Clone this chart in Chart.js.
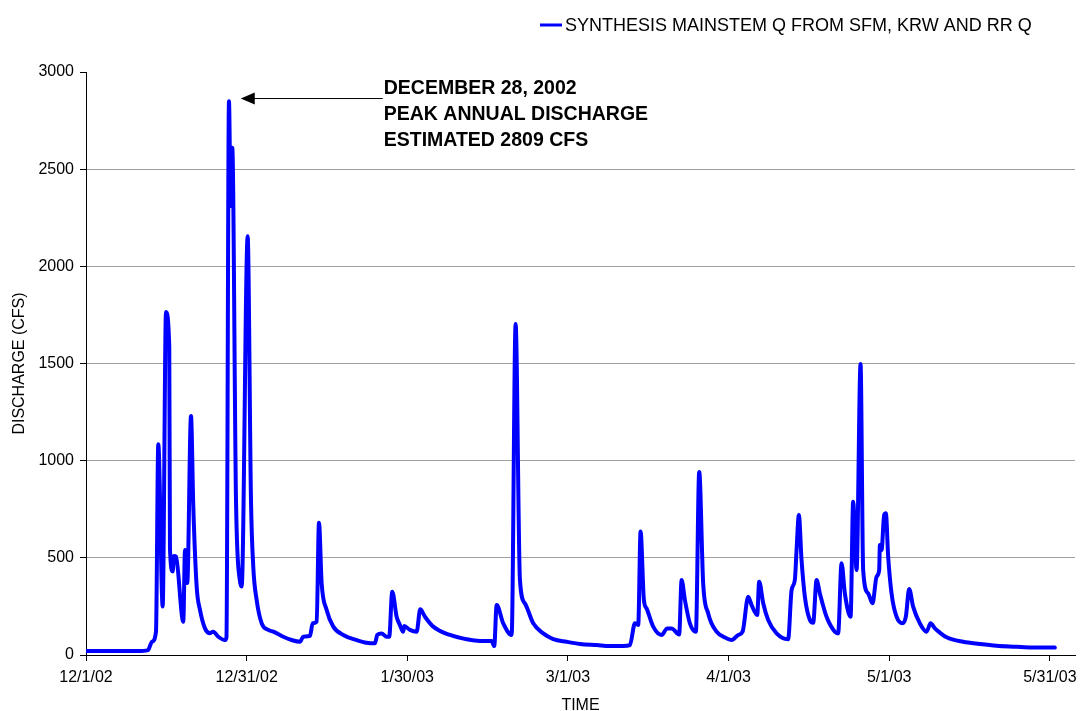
<!DOCTYPE html>
<html>
<head>
<meta charset="utf-8">
<script src="https://cdn.jsdelivr.net/npm/chart.js@4.4.1/dist/chart.umd.min.js"></script>
<style>
  html, body { margin: 0; padding: 0; background: #fff; }
  #wrap { width: 1080px; height: 711px; position: relative; }
</style>
</head>
<body>
<div id="wrap"><canvas id="c" width="1080" height="711"></canvas></div>
<script>
// ---- data (days since 12/1/02, discharge in CFS) ----
const dayIndex = [
  0, 9.52, 11.58, 12.32, 13.07, 13.50, 14.32, 14.94, 15.55, 15.68, 16.19, 16.43, 16.80,
  18.17, 18.49, 18.91, 19.61, 20.04, 20.67, 21.29, 22.22, 23.15, 23.77, 24.70, 25.95,
  26.23, 26.70, 27.02, 27.32, 28.01, 28.75, 29.07, 30.19, 30.81, 31.24, 31.87, 32.81,
  34.04, 34.97, 36.84, 38.41, 39.96, 40.57, 41.83, 42.33, 43.08, 43.51, 44.01, 44.94,
  46.18, 48.04, 50.55, 52.41, 53.96, 54.39, 55.21, 56.15, 56.63, 57.19, 58.01, 58.63,
  59.25, 59.43, 60.50, 61.75, 62.42, 63.30, 64.85, 67.97, 71.08, 73.57, 75.75, 76.24,
  76.69, 77.92, 79.49, 80.23, 81.04, 81.97, 83.52, 85.39, 87.26, 89.76, 92.24, 95.36,
  97.84, 100.33, 101.58, 102.51, 103.13, 103.57, 104.19, 104.69, 105.93, 107.49, 108.54,
  109.36, 110.78, 111.23, 111.85, 112.78, 113.90, 114.52, 115.26, 116.20, 117.76, 119.63,
  120.57, 121.80, 122.62, 123.67, 124.30, 125.35, 125.72, 126.47, 127.40, 128.97, 131.13,
  131.77, 132.38, 132.70, 133.13, 133.63, 134.25, 135.19, 135.80, 136.44, 137.05, 138.30,
  139.85, 140.47, 141.10, 141.72, 142.79, 143.27, 143.91, 144.65, 145.14, 146.07, 146.89,
  147.64, 148.13, 148.26, 148.57, 149.06, 149.38, 149.81, 150.44, 151.37, 152.49, 153.11,
  153.73, 154.47, 155.73, 156.98, 157.72, 158.53, 159.46, 160.71, 163.81, 166.93, 170.04,
  173.15, 176.26, 180.93
];
const discharge = [
  20, 20, 25, 68, 120, 1085, 250, 1765, 1585, 550, 430, 510, 506,
  171, 540, 370, 1230, 763, 351, 232, 137, 112, 120, 94, 77,
  90, 2850, 2310, 2610, 800, 380, 352, 2155, 798, 454, 283, 163,
  129, 120, 94, 77, 68, 94, 98, 163, 171, 681, 369, 232,
  146, 103, 77, 63, 60, 103, 111, 94, 94, 326, 197, 154,
  120, 149, 129, 120, 235, 197, 146, 103, 81, 72, 72, 46,
  257, 163, 103, 1703, 386, 266, 163, 111, 82, 68, 57, 51,
  46, 46, 51, 163, 155, 635, 283, 240, 146, 103, 137,
  137, 106, 386, 283, 163, 120, 942, 369, 214, 120, 86,
  77, 103, 120, 300, 257, 206, 377, 266, 180, 111, 81,
  334, 386, 540, 720, 489, 300, 180, 166, 386, 317, 197,
  120, 111, 472, 317, 197, 789, 437, 1497, 437, 317, 266,
  403, 437, 566, 540, 720, 729, 506, 317, 197, 163, 197,
  340, 249, 163, 120, 163, 137, 115, 91, 68, 57, 48,
  43, 39, 38
];
const tickDays   = [0, 30, 60, 90, 120, 150, 180];
const tickLabels = ["12/1/02", "12/31/02", "1/30/03", "3/1/03", "4/1/03", "5/1/03", "5/31/03"];
const yTicks     = [0, 500, 1000, 1500, 2000, 2500, 3000];
const seriesName = "SYNTHESIS MAINSTEM Q FROM SFM, KRW AND RR Q";
const noteLines  = ["DECEMBER 28, 2002", "PEAK ANNUAL DISCHARGE", "ESTIMATED 2809 CFS"];
const notePeakDay = 28.9, notePeakQ = 2866, noteTextDay = 55.6;

const points = dayIndex.map((d, i) => ({ x: d, y: discharge[i] }));
const FONT = "'Liberation Sans', Arial, sans-serif";

const overlay = {
  id: 'overlay',
  afterDraw(chart) {
    const ctx = chart.ctx;
    const xs = chart.scales.x, ys = chart.scales.y, ca = chart.chartArea;
    ctx.save();
    // legend
    ctx.strokeStyle = '#0000ff';
    ctx.lineWidth = 3;
    ctx.beginPath(); ctx.moveTo(540, 25); ctx.lineTo(562, 25); ctx.stroke();
    ctx.fillStyle = '#000';
    ctx.font = "18px " + FONT;
    ctx.textBaseline = 'middle';
    ctx.textAlign = 'left';
    ctx.fillText(seriesName, 565, 26);
    // axis titles
    ctx.font = "16px " + FONT;
    ctx.textAlign = 'center';
    ctx.fillText('TIME', (ca.left + ca.right) / 2, 706);
    ctx.save();
    ctx.translate(20, (ca.top + ca.bottom) / 2);
    ctx.rotate(-Math.PI / 2);
    ctx.fillText('DISCHARGE (CFS)', 0, 0);
    ctx.restore();
    // annotation arrow
    const tipX = xs.getPixelForValue(notePeakDay);
    const tipY = ys.getPixelForValue(notePeakQ);
    const tailX = xs.getPixelForValue(noteTextDay) - 1;
    ctx.strokeStyle = '#000';
    ctx.lineWidth = 1;
    ctx.beginPath(); ctx.moveTo(tailX, tipY + 0.5); ctx.lineTo(tipX + 12, tipY + 0.5); ctx.stroke();
    ctx.beginPath();
    ctx.moveTo(tipX, tipY + 0.5);
    ctx.lineTo(tipX + 14, tipY - 5.5);
    ctx.lineTo(tipX + 14, tipY + 6.5);
    ctx.closePath(); ctx.fill();
    // annotation text
    ctx.font = "bold 19.5px " + FONT;
    ctx.textAlign = 'left';
    ctx.textBaseline = 'middle';
    const tx = xs.getPixelForValue(noteTextDay);
    noteLines.forEach((t, i) => ctx.fillText(t, tx, 89 + i * 26));
    ctx.restore();
  }
};

new Chart(document.getElementById('c'), {
  type: 'line',
  data: {
    datasets: [{
      label: seriesName,
      data: points,
      borderColor: '#0000ff',
      borderWidth: 4,
      pointRadius: 0,
      fill: false,
      cubicInterpolationMode: 'monotone',
      borderJoinStyle: 'round',
      borderCapStyle: 'round'
    }]
  },
  options: {
    responsive: false,
    animation: false,
    devicePixelRatio: 1,
    layout: { padding: { top: 72, right: 5, left: 0, bottom: 0 } },
    plugins: { legend: { display: false }, tooltip: { enabled: false } },
    scales: {
      x: {
        type: 'linear',
        min: 0,
        max: 184.7,
        afterBuildTicks: (s) => { s.ticks = tickDays.map(v => ({ value: v })); },
        afterFit: (s) => { s.height = 56; s.paddingLeft = 0; s.paddingRight = 0; },
        ticks: {
          autoSkip: false, maxRotation: 0, padding: 7,
          color: '#000', font: { family: FONT, size: 16 },
          callback: (v) => { const i = tickDays.indexOf(v); return i >= 0 ? tickLabels[i] : ''; }
        },
        grid: { drawOnChartArea: false, drawTicks: true, tickLength: 6, tickColor: '#000' },
        border: { display: true, color: '#000', width: 1 }
      },
      y: {
        min: 0, max: 3000,
        afterBuildTicks: (s) => { s.ticks = yTicks.map(v => ({ value: v })); },
        afterFit: (s) => { s.width = 86; s.paddingTop = 0; s.paddingBottom = 0; },
        ticks: { padding: 6, color: '#000', font: { family: FONT, size: 16 }, callback: (v) => String(v) },
        grid: {
          color: (c) => (c.tick && (c.tick.value === 0 || c.tick.value === 3000)) ? 'rgba(0,0,0,0)' : '#a0a0a0',
          tickColor: '#000', tickLength: 6, lineWidth: 1
        },
        border: { display: true, color: '#000', width: 1 }
      }
    }
  },
  plugins: [overlay]
});
</script>
</body>
</html>
